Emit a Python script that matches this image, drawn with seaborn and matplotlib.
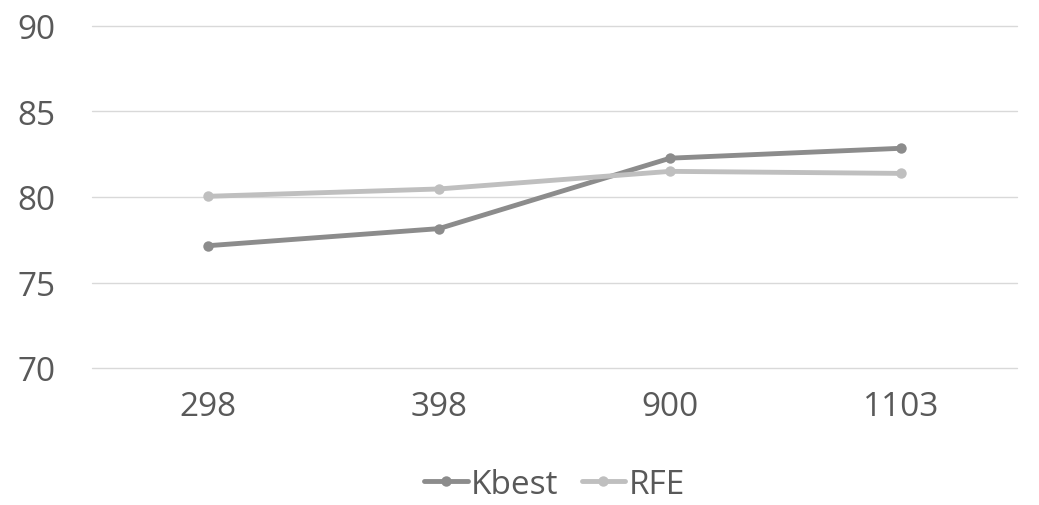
import matplotlib
matplotlib.use('Agg')
import matplotlib.pyplot as plt
import pandas as pd
import seaborn as sns

features = ['298', '398', '900', '1103']
kbest = [77.15, 78.15, 82.27, 82.85]
rfe = [80.04, 80.47, 81.5, 81.38]

df = pd.DataFrame({
    'features': features * 2,
    'score': kbest + rfe,
    'method': ['Kbest'] * 4 + ['RFE'] * 4,
})

sns.set_style('white')
plt.rcParams['font.family'] = ['Open Sans', 'DejaVu Sans']

text_color = '#595959'
fig = plt.figure(figsize=(10.39, 5.06), dpi=100)
ax = fig.add_axes([92 / 1039, 1 - 369 / 506, (1017 - 92) / 1039, (369 - 27) / 506])

sns.lineplot(data=df, x='features', y='score', hue='method', sort=False,
             palette={'Kbest': '#8c8c8c', 'RFE': '#bfbfbf'},
             marker='o', markersize=7.5, markeredgewidth=0, linewidth=3.5, ax=ax)

ax.set_ylim(70, 90)
ax.set_xlim(-0.5, 3.5)
ax.set_yticks([70, 75, 80, 85, 90])
ax.yaxis.grid(True, color='#d9d9d9', linewidth=1)
for gl in ax.get_ygridlines():
    gl.set_clip_on(False)
ax.set_axisbelow(True)
for s in ax.spines.values():
    s.set_visible(False)
ax.tick_params(axis='both', length=0, labelsize=24, colors=text_color)
ax.tick_params(axis='y', pad=26)
ax.tick_params(axis='x', pad=16)
ax.set_xlabel('')
ax.set_ylabel('')

handles, labels = ax.get_legend_handles_labels()
ax.legend(handles, labels, loc='center', bbox_to_anchor=(0.5, -0.34), ncol=2,
          frameon=False, fontsize=24, labelcolor=text_color, handlelength=1.3,
          handletextpad=0.1, columnspacing=0.7)

fig.savefig('out.png', dpi=100)
